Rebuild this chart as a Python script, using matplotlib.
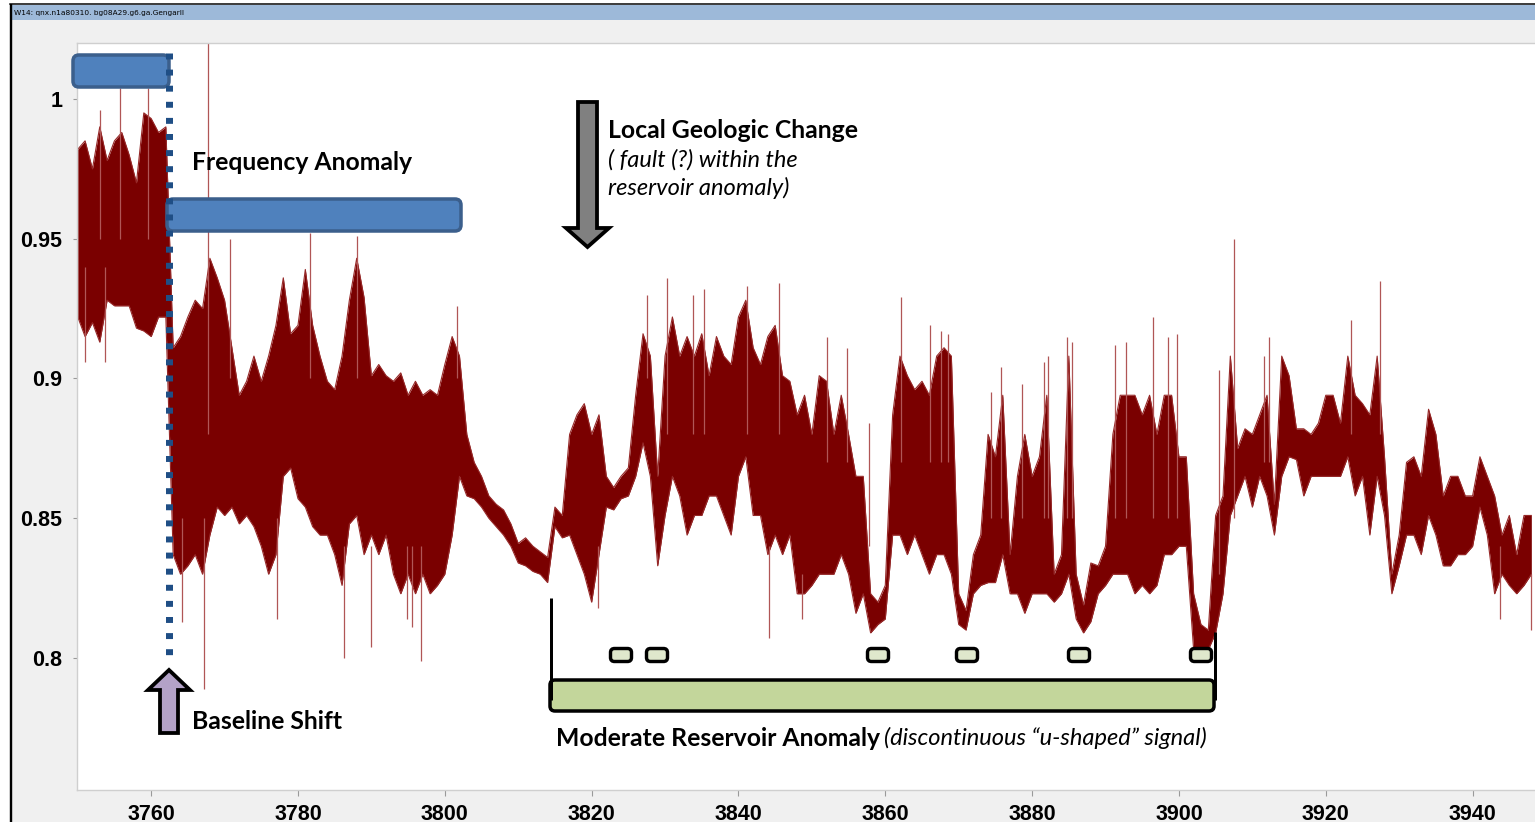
import numpy as np
import matplotlib
matplotlib.use("Agg")
import matplotlib.pyplot as plt
from matplotlib.patches import FancyBboxPatch, Polygon, Rectangle

# depth grid (1 ft steps) with the upper / lower extent of the trace at each step
depth = np.arange(3750, 3949)
trace_hi = [
    0.982, 0.985, 0.975, 0.990, 0.978, 0.985, 0.988, 0.980, 0.970, 0.995,
    0.993, 0.988, 0.990, 0.911, 0.915, 0.922, 0.928, 0.925, 0.943, 0.936,
    0.928, 0.911, 0.894, 0.899, 0.908, 0.899, 0.908, 0.919, 0.936, 0.916,
    0.919, 0.939, 0.919, 0.908, 0.899, 0.896, 0.908, 0.928, 0.943, 0.929,
    0.901, 0.905, 0.901, 0.899, 0.902, 0.894, 0.899, 0.894, 0.896, 0.894,
    0.905, 0.915, 0.908, 0.880, 0.870, 0.865, 0.858, 0.855, 0.853, 0.848,
    0.841, 0.843, 0.840, 0.838, 0.836, 0.854, 0.851, 0.880, 0.887, 0.891,
    0.880, 0.887, 0.865, 0.861, 0.865, 0.868, 0.894, 0.916, 0.908, 0.865,
    0.908, 0.922, 0.908, 0.915, 0.908, 0.916, 0.901, 0.915, 0.908, 0.905,
    0.922, 0.928, 0.911, 0.905, 0.915, 0.919, 0.901, 0.899, 0.887, 0.894,
    0.880, 0.901, 0.899, 0.880, 0.894, 0.880, 0.865, 0.865, 0.823, 0.820,
    0.826, 0.887, 0.908, 0.901, 0.896, 0.899, 0.894, 0.908, 0.911, 0.908,
    0.823, 0.817, 0.837, 0.844, 0.880, 0.872, 0.894, 0.837, 0.865, 0.880,
    0.865, 0.872, 0.894, 0.830, 0.837, 0.908, 0.830, 0.819, 0.834, 0.833,
    0.840, 0.880, 0.894, 0.894, 0.894, 0.887, 0.894, 0.880, 0.894, 0.894,
    0.872, 0.872, 0.823, 0.812, 0.810, 0.851, 0.858, 0.908, 0.875, 0.882,
    0.880, 0.887, 0.894, 0.855, 0.908, 0.901, 0.882, 0.882, 0.880, 0.884,
    0.894, 0.894, 0.884, 0.908, 0.894, 0.891, 0.887, 0.908, 0.872, 0.830,
    0.844, 0.870, 0.872, 0.865, 0.889, 0.880, 0.858, 0.865, 0.865, 0.858,
    0.858, 0.872, 0.865, 0.858, 0.844, 0.851, 0.837, 0.851, 0.851,
]
trace_lo = [
    0.922, 0.915, 0.920, 0.913, 0.928, 0.926, 0.926, 0.926, 0.918, 0.917,
    0.915, 0.922, 0.922, 0.837, 0.830, 0.833, 0.837, 0.830, 0.844, 0.854,
    0.851, 0.854, 0.848, 0.851, 0.847, 0.840, 0.830, 0.837, 0.865, 0.868,
    0.857, 0.854, 0.847, 0.844, 0.844, 0.837, 0.826, 0.848, 0.851, 0.837,
    0.844, 0.837, 0.844, 0.830, 0.823, 0.830, 0.823, 0.830, 0.823, 0.826,
    0.830, 0.844, 0.865, 0.858, 0.857, 0.854, 0.850, 0.847, 0.844, 0.840,
    0.834, 0.833, 0.831, 0.830, 0.827, 0.847, 0.843, 0.844, 0.837, 0.830,
    0.820, 0.837, 0.854, 0.853, 0.857, 0.858, 0.865, 0.877, 0.865, 0.833,
    0.851, 0.865, 0.858, 0.844, 0.851, 0.851, 0.858, 0.858, 0.851, 0.844,
    0.865, 0.872, 0.851, 0.851, 0.837, 0.844, 0.837, 0.844, 0.823, 0.823,
    0.826, 0.830, 0.830, 0.830, 0.837, 0.830, 0.816, 0.823, 0.809, 0.812,
    0.814, 0.844, 0.844, 0.837, 0.844, 0.837, 0.830, 0.837, 0.837, 0.830,
    0.812, 0.810, 0.823, 0.826, 0.827, 0.827, 0.837, 0.823, 0.823, 0.816,
    0.823, 0.823, 0.823, 0.820, 0.823, 0.830, 0.814, 0.809, 0.813, 0.823,
    0.826, 0.830, 0.830, 0.830, 0.823, 0.826, 0.823, 0.826, 0.837, 0.837,
    0.840, 0.840, 0.803, 0.802, 0.803, 0.809, 0.823, 0.851, 0.858, 0.865,
    0.854, 0.865, 0.858, 0.844, 0.865, 0.872, 0.871, 0.858, 0.865, 0.865,
    0.865, 0.865, 0.865, 0.872, 0.858, 0.865, 0.844, 0.865, 0.851, 0.823,
    0.833, 0.844, 0.844, 0.837, 0.851, 0.844, 0.833, 0.833, 0.837, 0.837,
    0.840, 0.854, 0.844, 0.823, 0.830, 0.826, 0.823, 0.826, 0.830,
]

# isolated thin spikes reaching beyond the main trace
spike_depth = [3753.1, 3755.8, 3759.6, 3751.0, 3753.7, 3764.2, 3767.2, 3767.8,
               3770.8, 3777.1, 3781.6, 3786.3, 3788.1, 3789.9, 3794.8, 3795.5,
               3796.7, 3801.6, 3820.8, 3827.6, 3830.3, 3833.8, 3835.3, 3841.2,
               3844.2, 3845.5, 3848.7, 3852.0, 3854.8, 3857.8, 3862.1, 3866.1,
               3867.6, 3868.5, 3874.4, 3875.8, 3878.6, 3881.6, 3882.1, 3884.7,
               3885.4, 3891.3, 3892.8, 3896.5, 3898.5, 3899.8, 3905.4, 3907.5,
               3911.6, 3912.3, 3923.4, 3927.4, 3943.7, 3947.9]
spike_lo = [0.95, 0.95, 0.95, 0.906, 0.906, 0.813, 0.789, 0.88,
            0.90, 0.814, 0.90, 0.800, 0.90, 0.804, 0.814, 0.811,
            0.799, 0.90, 0.818, 0.90, 0.88, 0.88, 0.88, 0.88,
            0.807, 0.88, 0.814, 0.87, 0.87, 0.84, 0.87, 0.87,
            0.87, 0.87, 0.85, 0.85, 0.85, 0.85, 0.85, 0.85,
            0.85, 0.85, 0.85, 0.85, 0.85, 0.85, 0.83, 0.85,
            0.87, 0.87, 0.88, 0.88, 0.814, 0.810]
spike_hi = [0.996, 1.004, 1.004, 0.94, 0.94, 0.85, 0.85, 1.03,
            0.950, 0.85, 0.952, 0.84, 0.951, 0.84, 0.84, 0.84,
            0.84, 0.926, 0.84, 0.930, 0.936, 0.930, 0.932, 0.933,
            0.84, 0.934, 0.83, 0.915, 0.911, 0.884, 0.929, 0.919,
            0.917, 0.916, 0.895, 0.904, 0.898, 0.906, 0.908, 0.915,
            0.913, 0.912, 0.913, 0.922, 0.915, 0.916, 0.903, 0.950,
            0.908, 0.915, 0.921, 0.935, 0.84, 0.83]

x_ticks = [3760, 3780, 3800, 3820, 3840, 3860, 3880, 3900, 3920, 3940]
y_ticks = [0.8, 0.85, 0.9, 0.95, 1.0]
y_labels = ["0.8", "0.85", "0.9", "0.95", "1"]

W, H = 1535, 822
PX = 0.72  # points per pixel at dpi 100
fig = plt.figure(figsize=(W / 100, H / 100), dpi=100, facecolor="white")

# window frame
bg = fig.add_axes([0, 0, 1, 1])
bg.set_xlim(0, W)
bg.set_ylim(H, 0)
bg.axis("off")
bg.add_patch(Rectangle((11, 5), W, H, color="#f0f0f0", lw=0))
bg.add_patch(Rectangle((11, 5), W, 15, color="#9db9d9", lw=0))
bg.plot([10.5, 10.5], [4, H], color="black", lw=2.4 * PX, solid_capstyle="butt")
bg.plot([10, W], [4.5, 4.5], color="black", lw=1.5 * PX)
bg.text(14, 12.5, "W14: qnx.n1a80310. bg08A29.g6.ga.GengarII", fontsize=5.3,
        va="center", ha="left", family="DejaVu Sans")

# plot area
ax = fig.add_axes([77 / W, 1 - 790 / H, (W - 77) / W, (790 - 43) / H])
ax.set_facecolor("white")
ax.fill_between(depth, trace_lo, trace_hi, color="#7a0000", lw=0)
ax.plot(depth, trace_hi, color="#962828", lw=0.8)
ax.plot(depth, trace_lo, color="#962828", lw=0.8)
ax.vlines(spike_depth, spike_lo, spike_hi, color="#b05656", lw=0.9)

ax.set_xlim(3749.9, 3948.5)
ax.set_ylim(0.7528, 1.02)
ax.set_xticks(x_ticks)
ax.set_xticklabels([str(t) for t in x_ticks])
ax.set_yticks(y_ticks)
ax.set_yticklabels(y_labels)
for lab in ax.get_xticklabels() + ax.get_yticklabels():
    lab.set_fontfamily("Liberation Sans")
    lab.set_fontweight("bold")
    lab.set_fontsize(15.5)
ax.tick_params(axis="x", length=4, width=0.8, color="#999999", pad=6)
ax.tick_params(axis="y", length=3, width=0.8, color="#999999", pad=7.5)
for side in ["left", "top", "bottom"]:
    ax.spines[side].set_color("#cfcfcf")
    ax.spines[side].set_linewidth(1)
ax.spines["right"].set_visible(False)

# annotation layer in pixel coordinates
ov = fig.add_axes([0, 0, 1, 1], zorder=5)
ov.set_xlim(0, W)
ov.set_ylim(H, 0)
ov.axis("off")
ov.patch.set_alpha(0)

def rbox(x0, y0, x1, y1, fc, ec, lw, r):
    ov.add_patch(FancyBboxPatch((x0, y0), x1 - x0, y1 - y0,
                                boxstyle=f"round,pad=0,rounding_size={r}",
                                fc=fc, ec=ec, lw=lw * PX))

blue = "#4f81bd"
blue_edge = "#3b5f8c"
rbox(73, 55, 169, 87, blue, blue_edge, 3.5, 6)
rbox(167, 199, 461, 231, blue, blue_edge, 3.5, 6)
ov.plot([169, 169], [53, 656], color="#1f4e85", lw=7 * PX,
        linestyle=(0, (0.85, 1.45)), dash_capstyle="butt")

font = "Lato"
BOLD = 17.8
ITAL = 17
ov.text(192, 162, "Frequency Anomaly", fontsize=BOLD, fontweight="bold",
        family=font, va="center", ha="left")

# baseline shift arrow (up)
up = [(169, 670), (190, 690), (178, 690), (178, 733), (160, 733), (160, 690), (148, 690)]
ov.add_patch(Polygon(up, closed=True, fc="#b3a2c7", ec="black", lw=3.8 * PX,
                     joinstyle="miter"))
ov.text(192, 721, "Baseline Shift", fontsize=BOLD, fontweight="bold",
        family=font, va="center", ha="left")

# local geologic change arrow (down)
down = [(578, 102), (597, 102), (597, 228), (609, 228), (587.5, 247),
        (566, 228), (578, 228)]
ov.add_patch(Polygon(down, closed=True, fc="#808080", ec="black", lw=3.8 * PX,
                     joinstyle="miter"))
ov.text(608, 130, "Local Geologic Change", fontsize=BOLD, fontweight="bold",
        family=font, va="center", ha="left")
ov.text(608, 160, "( fault (?) within the", fontsize=ITAL, style="italic",
        family=font, va="center", ha="left")
ov.text(608, 188, "reservoir anomaly)", fontsize=ITAL, style="italic",
        family=font, va="center", ha="left")

# reservoir anomaly bracket
ov.plot([551, 551], [598, 700], color="black", lw=3 * PX, solid_capstyle="butt")
ov.plot([1215, 1215], [632, 700], color="black", lw=3 * PX, solid_capstyle="butt")
rbox(550, 680, 1214, 711, "#c3d69b", "black", 3.5, 5)
for cx in [621, 657, 878, 967, 1079, 1201]:
    rbox(cx - 10.5, 648.5, cx + 10.5, 661.5, "#dfe8cc", "black", 3.4, 4)

ov.text(556, 738, "Moderate Reservoir Anomaly", fontsize=BOLD, fontweight="bold",
        family=font, va="center", ha="left")
ov.text(884, 738, "(discontinuous \u201cu-shaped\u201d signal)", fontsize=ITAL,
        style="italic", family=font, va="center", ha="left")

fig.savefig("out.png", dpi=100, facecolor=fig.get_facecolor())
